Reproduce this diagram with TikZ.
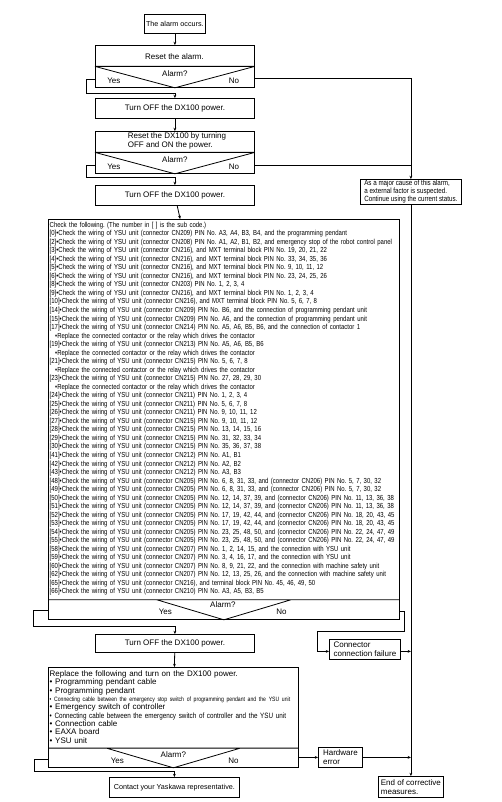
\documentclass[tikz,border=0pt]{standalone}
\usepackage{fontspec}
\setmainfont{Liberation Sans}
\newfontfamily\condfont{Liberation Sans}[FakeStretch=0.82]
\usetikzlibrary{arrows.meta,calc}

\newcommand{\subc}[1]{[#1]•}
\newcommand{\wiring}{Check the wiring of YSU unit}
\newcommand{\contactor}{\hspace*{5.5pt}•Replace the connected contactor or the relay which drives the contactor}

\tikzset{
  box/.style={draw, line width=0.8pt, inner sep=0pt, anchor=north west, font=\fontsize{8}{9.3}\selectfont},
  note/.style={box, align=left},
  tag/.style={inner sep=0pt, font=\fontsize{8}{9}\selectfont},
  flow/.style={line width=0.8pt, -{Stealth[length=3.2pt,width=2.8pt]}},
  link/.style={line width=0.8pt},
}

\begin{document}
\frenchspacing
\begin{tikzpicture}[x=1pt, y=-1pt, line join=miter]
  \useasboundingbox (0,0) rectangle (501,802);

  % main column
  \node[box, minimum width=61pt, minimum height=19pt, font=\fontsize{7.2}{8}\selectfont] (alarm) at (144,14) {The alarm occurs.};
  \node[box, minimum width=159pt, minimum height=42pt] (reset1) at (95,45) {};
  \node[tag] at (174.5,57) {Reset the alarm.};
  \node[box, minimum width=159pt, minimum height=20pt] (off1) at (95,98) {Turn OFF the DX100 power.};
  \node[box, minimum width=159pt, minimum height=42pt] (reset2) at (95,131) {};
  \node[tag, align=left] at (177,141.2) {Reset the DX100 by turning\\OFF and ON the power.};
  \node[box, minimum width=159pt, minimum height=20pt] (off2) at (95,185) {Turn OFF the DX100 power.};
  \node[box, minimum width=351pt, minimum height=400pt] (check) at (48,219) {};
  \node[anchor=north west, inner sep=0pt, text width=420pt, align=left,
        font=\fontsize{7.3}{8.53}\condfont] (checklist) at (49.5,221.7) {%
    Check the following. (The number in [ ] is the sub code.)\\
    \subc{0}\wiring{} (connector CN209) PIN No. A3, A4, B3, B4, and the programming pendant\\
    \subc{2}\wiring{} (connector CN208) PIN No. A1, A2, B1, B2, and emergency stop of the robot control panel\\
    \subc{3}\wiring{} (connector CN216), and MXT terminal block PIN No. 19, 20, 21, 22\\
    \subc{4}\wiring{} (connector CN216), and MXT terminal block PIN No. 33, 34, 35, 36\\
    \subc{5}\wiring{} (connector CN216), and MXT terminal block PIN No. 9, 10, 11, 12\\
    \subc{6}\wiring{} (connector CN216), and MXT terminal block PIN No. 23, 24, 25, 26\\
    \subc{8}\wiring{} (connector CN203) PIN No. 1, 2, 3, 4\\
    \subc{9}\wiring{} (connector CN216), and MXT terminal block PIN No. 1, 2, 3, 4\\
    \subc{10}\wiring{} (connector CN216), and MXT terminal block PIN No. 5, 6, 7, 8\\
    \subc{14}\wiring{} (connector CN209) PIN No. B6, and the connection of programming pendant unit\\
    \subc{15}\wiring{} (connector CN209) PIN No. A6, and the connection of programming pendant unit\\
    \subc{17}\wiring{} (connector CN214) PIN No. A5, A6, B5, B6, and the connection of contactor 1\\
    \contactor\\
    \subc{19}\wiring{} (connector CN213) PIN No. A5, A6, B5, B6\\
    \contactor\\
    \subc{21}\wiring{} (connector CN215) PIN No. 5, 6, 7, 8\\
    \contactor\\
    \subc{23}\wiring{} (connector CN215) PIN No. 27, 28, 29, 30\\
    \contactor\\
    \subc{24}\wiring{} (connector CN211) PIN No. 1, 2, 3, 4\\
    \subc{25}\wiring{} (connector CN211) PIN No. 5, 6, 7, 8\\
    \subc{26}\wiring{} (connector CN211) PIN No. 9, 10, 11, 12\\
    \subc{27}\wiring{} (connector CN215) PIN No. 9, 10, 11, 12\\
    \subc{28}\wiring{} (connector CN215) PIN No. 13, 14, 15, 16\\
    \subc{29}\wiring{} (connector CN215) PIN No. 31, 32, 33, 34\\
    \subc{30}\wiring{} (connector CN215) PIN No. 35, 36, 37, 38\\
    \subc{41}\wiring{} (connector CN212) PIN No. A1, B1\\
    \subc{42}\wiring{} (connector CN212) PIN No. A2, B2\\
    \subc{43}\wiring{} (connector CN212) PIN No. A3, B3\\
    \subc{48}\wiring{} (connector CN205) PIN No. 6, 8, 31, 33, and (connector CN206) PIN No. 5, 7, 30, 32\\
    \subc{49}\wiring{} (connector CN205) PIN No. 6, 8, 31, 33, and (connector CN206) PIN No. 5, 7, 30, 32\\
    \subc{50}\wiring{} (connector CN205) PIN No. 12, 14, 37, 39, and (connector CN206) PIN No. 11, 13, 36, 38\\
    \subc{51}\wiring{} (connector CN205) PIN No. 12, 14, 37, 39, and (connector CN206) PIN No. 11, 13, 36, 38\\
    \subc{52}\wiring{} (connector CN205) PIN No. 17, 19, 42, 44, and (connector CN206) PIN No. 18, 20, 43, 45\\
    \subc{53}\wiring{} (connector CN205) PIN No. 17, 19, 42, 44, and (connector CN206) PIN No. 18, 20, 43, 45\\
    \subc{54}\wiring{} (connector CN205) PIN No. 23, 25, 48, 50, and (connector CN206) PIN No. 22, 24, 47, 49\\
    \subc{55}\wiring{} (connector CN205) PIN No. 23, 25, 48, 50, and (connector CN206) PIN No. 22, 24, 47, 49\\
    \subc{58}\wiring{} (connector CN207) PIN No. 1, 2, 14, 15, and the connection with YSU unit\\
    \subc{59}\wiring{} (connector CN207) PIN No. 3, 4, 16, 17, and the connection with YSU unit\\
    \subc{60}\wiring{} (connector CN207) PIN No. 8, 9, 21, 22, and the connection with machine safety unit\\
    \subc{62}\wiring{} (connector CN207) PIN No. 12, 13, 25, 26, and the connection with machine safety unit\\
    \subc{65}\wiring{} (connector CN216), and terminal block PIN No. 45, 46, 49, 50\\
    \subc{66}\wiring{} (connector CN210) PIN No. A3, A5, B3, B5};
  \node[box, minimum width=159pt, minimum height=18pt] (off3) at (95,634) {Turn OFF the DX100 power.};
  \node[box, minimum width=250pt, minimum height=100pt] (replace) at (48,667) {};
  \node[anchor=north west, inner sep=0pt, text width=300pt, align=left,
        font=\fontsize{8}{8.33}\selectfont] (replacelist) at (49.5,670.4) {%
    Replace the following and turn on the DX100 power.\\
    • Programming pendant cable\\
    • Programming pendant\\
    {\fontsize{6.25}{8.33}\condfont • Connecting cable between the emergency stop switch of programming pendant and the YSU unit}\\
    • Emergency switch of controller\\
    {\fontsize{7.7}{8.33}\condfont • Connecting cable between the emergency switch of controller and the YSU unit}\\
    • Connection cable\\
    • EAXA board\\
    • YSU unit};
  \node[box, minimum width=130pt, minimum height=20pt, font=\fontsize{7.2}{8}\selectfont] (contact) at (109,777) {Contact your Yaskawa representative.};

  % right column
  \node[note, minimum width=101pt, minimum height=25pt, font=\fontsize{7.6}{8}\condfont] (external) at (360,179) {As a major cause of this alarm,\\a external factor is suspected.\\Continue using the current status.};
  \node[note, minimum width=71pt, minimum height=20pt] (conn) at (329,639) {Connector\\connection failure};
  \node[note, minimum width=44pt, minimum height=20pt] (hw) at (318,747) {Hardware\\error};
  \node[note, minimum width=65pt, minimum height=21pt] (endbox) at (378,776) {End of corrective\\measures.};

  % decision parts
  \draw[link] (reset1.west) -- (reset1.east) (reset1.west) -- (reset1.south) -- (reset1.east);
  \node[tag] (r1q) at ($(reset1.south)+(0,-14)$) {Alarm?};
  \node[tag] (r1yes) at ($(reset1.south)+(-61,-7)$) {Yes};
  \node[tag] (r1no) at ($(reset1.south)+(59,-7)$) {No};
  \draw[link] (reset2.west) -- (reset2.east) (reset2.west) -- (reset2.south) -- (reset2.east);
  \node[tag] (r2q) at ($(reset2.south)+(0,-14)$) {Alarm?};
  \node[tag] (r2yes) at ($(reset2.south)+(-61,-7)$) {Yes};
  \node[tag] (r2no) at ($(reset2.south)+(59,-7)$) {No};
  \coordinate (chkl) at ($(check.south)+(-67,-20)$);
  \coordinate (chkr) at ($(check.south)+(67,-20)$);
  \draw[link] (chkl -| check.west) -- (chkr -| check.east) (chkl) -- (check.south) -- (chkr);
  \node[tag] (cq) at ($(check.south)+(-1,-15)$) {Alarm?};
  \node[tag] (cyes) at ($(check.south)+(-58.5,-8)$) {Yes};
  \node[tag] (cno) at ($(check.south)+(57.5,-8)$) {No};
  \coordinate (repl) at ($(replace.south)+(-67,-19.7)$);
  \coordinate (repr) at ($(replace.south)+(67,-19.7)$);
  \draw[link] (repl -| replace.west) -- (repr -| replace.east) (repl) -- (replace.south) -- (repr);
  \node[tag] (rq) at ($(replace.south)+(0,-13)$) {Alarm?};
  \node[tag] (ryes) at ($(replace.south)+(-56,-7)$) {Yes};
  \node[tag] (rno) at ($(replace.south)+(60,-7)$) {No};

  % connectors
  \draw[flow] (alarm) -- (reset1);
  \draw[flow] (off1) -- (reset2);
  \draw[flow] (off2) -- (check);
  \draw[flow] (off3) -- (replace);
  \draw[flow] ($(r1yes -| reset1.west)+(0,-1)$) -- ++(-9,0) |- ($(off1.north)+(0,-5)$) -- (off1.north);
  \draw[flow] ($(r2yes -| reset2.west)+(0,-1)$) -- ++(-9,0) |- ($(off2.north)+(0,-8)$) -- (off2.north);
  \draw[flow] ($(cyes -| check.west)+(0,-1)$) -- ++(-15,0) |- ($(off3.north)+(0,-8)$) -- (off3.north);
  \draw[flow] ($(ryes -| replace.west)+(0,-1)$) -- ++(-14,0) |- ($(contact.north)+(0,-6)$) -- (contact.north);
  \draw[flow] ($(r1no -| reset1.east)+(0,-2)$) -| (external.north);
  \draw[link] ($(r2no -| reset2.east)+(0,-1)$) -- ($(r2no -| external.north)+(0,-1)$);
  \draw[flow] (external.south) -- (endbox.north);
  \draw[flow] (cno -| check.east) -- ++(5,0) -- ++(0,20) -| ($(conn.west)+(-12,2)$) -- ($(conn.west)+(0,2)$);
  \draw[flow] ($(conn.east)+(0,2)$) -- ($(conn.east -| external.south)+(0,2)$);
  \draw[flow] (hw.west -| replace.east) -- (hw.west);
  \draw[flow] (hw.east) -- (hw.east -| external.south);
\end{tikzpicture}
\end{document}
